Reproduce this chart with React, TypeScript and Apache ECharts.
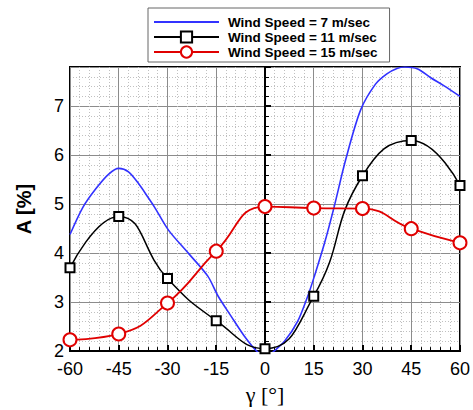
import React, { useEffect, useRef } from "react";
import * as echarts from "echarts";

const seriesNames = ["Wind Speed = 7 m/sec", "Wind Speed = 11 m/sec", "Wind Speed = 15 m/sec"];
const gammaMarked = [-60, -45, -30, -15, 0, 15, 30, 45, 60];
const a11 = [3.7, 4.75, 3.48, 2.62, 2.05, 3.12, 5.58, 6.3, 5.38];
const a15 = [2.23, 2.35, 2.98, 4.04, 4.95, 4.92, 4.91, 4.5, 4.21];
const gamma7 = [-60, -56, -52, -48, -45, -42, -38.8, -36, -34, -29.7, -23.6, -17.6, -14.5, -10.5, -6.5, -2.4, 0.5, 2.6, 6, 10, 13.2, 15.2, 18.3, 21.3, 24.8, 29.4, 34, 37.5, 40.6, 43, 47, 51, 55, 60];
const a7 = [4.38, 4.94, 5.32, 5.62, 5.73, 5.66, 5.41, 5.14, 4.94, 4.47, 4.0, 3.53, 3.13, 2.72, 2.32, 1.99, 1.88, 1.99, 2.2, 2.6, 3.13, 3.53, 4.2, 4.95, 5.9, 6.92, 7.45, 7.66, 7.77, 7.8, 7.76, 7.58, 7.42, 7.2];
const xTicks = { min: -60, max: 60, interval: 15 };
const yTicks = { min: 2, max: 7.8, interval: 1 };

const pairs = (xs: number[], ys: number[]) => xs.map((x, i) => [x, ys[i]]);

export default function App() {
  const ref = useRef<HTMLDivElement>(null);
  useEffect(() => {
    if (!ref.current) return;
    const chart = echarts.init(ref.current, null, { renderer: "svg" });
    const axisCommon = {
      axisLine: { show: true, lineStyle: { color: "#000", width: 2 } },
      axisTick: { show: true, inside: true, length: 6, lineStyle: { color: "#000", width: 2 } },
      minorTick: { show: true, splitNumber: 5, length: 4, lineStyle: { color: "#000", width: 1 } },
      splitLine: { show: true, lineStyle: { color: "#8c8c8c", width: 1 } },
      minorSplitLine: { show: true, lineStyle: { color: "#c0c0c0", width: 1, type: [1, 2] } },
    };
    const font = "Liberation Sans, Arial, sans-serif";
    chart.setOption({
      animation: false,
      backgroundColor: "#fff",
      grid: { left: 70, right: 7, top: 67, bottom: 54, show: true, borderColor: "#000", borderWidth: 2 },
      legend: {
        left: 148,
        top: 8,
        orient: "vertical",
        backgroundColor: "#fff",
        borderColor: "#666",
        borderWidth: 1,
        borderRadius: 0,
        padding: [7, 12, 3, 5],
        itemGap: 1,
        itemWidth: 65,
        itemHeight: 14,
        data: [
          { name: seriesNames[0], itemStyle: { color: "transparent", borderColor: "transparent", opacity: 0 } },
          { name: seriesNames[1] },
          { name: seriesNames[2] },
        ],
        textStyle: { fontFamily: font, fontWeight: "bold", fontSize: 13.5, lineHeight: 14, color: "#000", padding: [0, 0, 0, 4] },
      },
      xAxis: {
        type: "value",
        ...xTicks,
        ...axisCommon,
        name: "γ [°]",
        nameLocation: "middle",
        nameGap: 30,
        nameTextStyle: { fontFamily: "Liberation Serif, Times New Roman, serif", fontSize: 22, color: "#000" },
        axisLabel: { fontFamily: font, fontSize: 18, color: "#000", margin: 9 },
      },
      yAxis: {
        type: "value",
        ...yTicks,
        ...axisCommon,
        name: "A [%]",
        nameLocation: "middle",
        nameGap: 36,
        nameRotate: 90,
        nameTextStyle: { fontFamily: font, fontSize: 20, fontWeight: "bold", color: "#000" },
        axisLabel: { fontFamily: font, fontSize: 18, color: "#000", margin: 6, showMaxLabel: false },
      },
      series: [
        {
          name: seriesNames[0],
          type: "line",
          data: pairs(gamma7, a7),
          smooth: 0.3,
          symbol: "none",
          clip: true,
          lineStyle: { color: "#3232ff", width: 1.6 },
          itemStyle: { color: "#3232ff" },
        },
        {
          name: seriesNames[1],
          type: "line",
          data: pairs(gammaMarked, a11),
          smooth: 0.5,
          symbol: "emptyRect",
          symbolSize: 9,
          clip: true,
          lineStyle: { color: "#000", width: 1.5 },
          itemStyle: { color: "#000", borderWidth: 1.5 },
        },
        {
          name: seriesNames[2],
          type: "line",
          data: pairs(gammaMarked, a15),
          smooth: 0.5,
          symbol: "emptyCircle",
          symbolSize: 13,
          clip: true,
          lineStyle: { color: "#e00000", width: 1.8 },
          itemStyle: { color: "#e00000", borderWidth: 1.5 },
        },
      ],
    });
    return () => chart.dispose();
  }, []);
  return <div ref={ref} style={{ width: 473, height: 410, position: "absolute", left: 0, top: 0 }} />;
}
